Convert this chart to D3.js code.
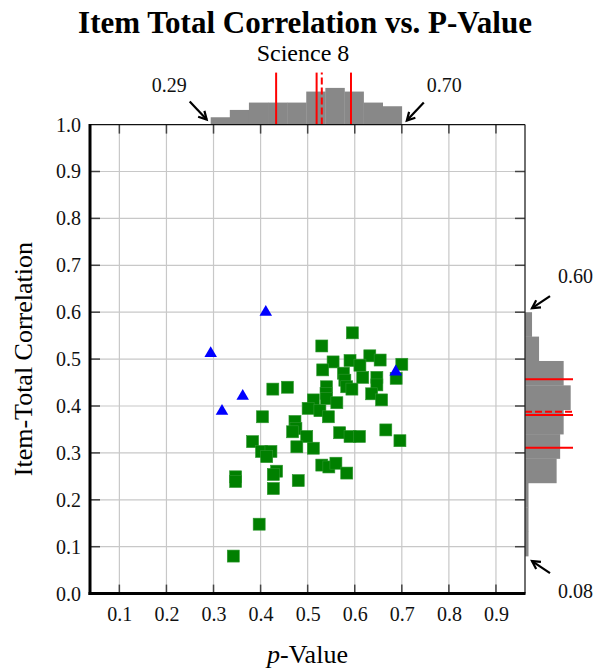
<!DOCTYPE html>
<html><head><meta charset="utf-8">
<script src="https://cdn.jsdelivr.net/npm/d3@7"></script>
<style>body{margin:0;background:#fff}svg{display:block}</style>
</head><body>
<script>
// ---------- data ----------
const squareP = [0.595,0.530,0.554,0.590,0.632,0.654,0.700,0.611,0.532,0.576,0.617,0.647,0.688,0.579,0.583,0.540,0.647,0.426,0.457,0.594,0.539,0.636,0.657,0.512,0.540,0.562,0.501,0.526,0.544,0.404,0.473,0.475,0.468,0.498,0.568,0.590,0.610,0.666,0.696,0.383,0.477,0.512,0.402,0.422,0.413,0.530,0.545,0.560,0.583,0.434,0.427,0.347,0.347,0.480,0.427,0.397,0.342];
const squareR = [0.556,0.528,0.494,0.497,0.507,0.498,0.489,0.487,0.477,0.470,0.461,0.461,0.459,0.455,0.441,0.441,0.445,0.436,0.440,0.436,0.427,0.426,0.413,0.413,0.416,0.407,0.395,0.390,0.377,0.377,0.367,0.352,0.345,0.335,0.343,0.335,0.335,0.349,0.326,0.324,0.313,0.310,0.303,0.303,0.292,0.274,0.270,0.278,0.257,0.261,0.254,0.249,0.239,0.241,0.224,0.148,0.080];
const triangleP = [0.294,0.318,0.362,0.411,0.687];
const triangleR = [0.512,0.389,0.421,0.600,0.473];
const xTicks = [0.1,0.2,0.3,0.4,0.5,0.6,0.7,0.8,0.9];
const yTicks = [0.0,0.1,0.2,0.3,0.4,0.5,0.6,0.7,0.8,0.9,1.0];
const topHistCounts = [2,4,6,6,6,9,10,9,6,5];           // p-value bins, low to high
const rightHistCounts = [1,1,1,9,10,11,13,11,4,2];       // correlation bins, low to high
const statNames = ["Q1","Mean","Median","Q3"];
const topStatValues = [0.433,0.519,0.530,0.592];
const rightStatValues = [0.311,0.381,0.388,0.457];
const titleText = "Item Total Correlation vs. P-Value";
const subtitleText = "Science 8";
const yLabel = "Item-Total Correlation";

// ---------- layout ----------
const W = 605, H = 671;
const svg = d3.select("body").append("svg").attr("width", W).attr("height", H)
  .style("font-family", "'Liberation Serif','Times New Roman',serif");

const x = d3.scaleLinear().domain([0.0376, 0.9617]).range([90, 525]);
const y = d3.scaleLinear().domain([0, 1]).range([593.6, 124.6]);
const [L, R] = x.range();
const [B, T] = y.range();

const allP = squareP.concat(triangleP);
const allR = squareR.concat(triangleR);
const pMin = d3.min(allP), pMax = d3.max(allP);
const rMin = d3.min(allR), rMax = d3.max(allR);
const fmt = d3.format(".2f");

// grid
const g = svg.append("g");
g.selectAll("line.gx").data(xTicks).join("line")
  .attr("x1", d => x(d)).attr("x2", d => x(d)).attr("y1", T).attr("y2", B)
  .attr("stroke", "#c8c8c8").attr("stroke-width", 1.2);
g.selectAll("line.gy").data(yTicks.filter(d => d > 0 && d < 1)).join("line")
  .attr("x1", L).attr("x2", R).attr("y1", d => y(d)).attr("y2", d => y(d))
  .attr("stroke", "#c8c8c8").attr("stroke-width", 1.2);

// scatter
const squares = squareP.map((p, i) => ({p, r: squareR[i]}));
const tris = triangleP.map((p, i) => ({p, r: triangleR[i]}));
svg.append("g").selectAll("rect").data(squares).join("rect")
  .attr("x", d => x(d.p) - 6).attr("y", d => y(d.r) - 6)
  .attr("width", 12).attr("height", 12)
  .attr("fill", "#008000").attr("stroke", "#2e962e").attr("stroke-width", 0.6);
svg.append("g").selectAll("path").data(tris).join("path")
  .attr("d", d3.symbol(d3.symbolTriangle, 68))
  .attr("transform", d => `translate(${x(d.p)},${y(d.r)})`)
  .attr("fill", "#0000ff");

// top histogram
const nTop = topHistCounts.length;
const topEdges = d3.range(nTop + 1).map(i => pMin + (pMax - pMin) * i / nTop);
const hTop = d3.scaleLinear().domain([0, 10]).range([0, 36.7]);
svg.append("g").selectAll("rect").data(topHistCounts).join("rect")
  .attr("x", (d, i) => x(topEdges[i]))
  .attr("width", (d, i) => x(topEdges[i + 1]) - x(topEdges[i]) + 0.3)
  .attr("y", d => T - hTop(d)).attr("height", d => hTop(d))
  .attr("fill", "#888888");

// right histogram
const nR = rightHistCounts.length;
const rEdges = d3.range(nR + 1).map(i => rMin + (rMax - rMin) * i / nR);
const wR = d3.scaleLinear().domain([0, 13]).range([0, 45.7]);
svg.append("g").selectAll("rect").data(rightHistCounts).join("rect")
  .attr("x", R)
  .attr("y", (d, i) => y(rEdges[i + 1]))
  .attr("height", (d, i) => y(rEdges[i]) - y(rEdges[i + 1]) + 0.3)
  .attr("width", d => wR(d))
  .attr("fill", "#888888");

// stat lines
svg.append("g").selectAll("line").data(topStatValues).join("line")
  .attr("x1", d => x(d)).attr("x2", d => x(d)).attr("y1", T).attr("y2", T - 52)
  .attr("stroke", "#ff0000").attr("stroke-width", 2)
  .attr("stroke-dasharray", (d, i) => statNames[i] === "Median" ? "7,3" : null);
svg.append("g").selectAll("line").data(rightStatValues).join("line")
  .attr("y1", d => y(d)).attr("y2", d => y(d)).attr("x1", R).attr("x2", R + 48)
  .attr("stroke", "#ff0000").attr("stroke-width", 2)
  .attr("stroke-dasharray", (d, i) => statNames[i] === "Median" ? "7,3" : null);

// ticks (inward) on all sides
const tk = svg.append("g").attr("stroke", "#444").attr("stroke-width", 1.5);
tk.selectAll("line.b").data(xTicks).join("line")
  .attr("x1", d => x(d)).attr("x2", d => x(d)).attr("y1", B).attr("y2", B - 9);
tk.selectAll("line.t").data(xTicks).join("line").attr("class", "t")
  .attr("x1", d => x(d)).attr("x2", d => x(d)).attr("y1", T).attr("y2", T + 9);
const innerY = yTicks.filter(d => d > 0 && d < 1);
tk.selectAll("line.l").data(innerY).join("line").attr("class", "l")
  .attr("y1", d => y(d)).attr("y2", d => y(d)).attr("x1", L).attr("x2", L + 10);
tk.selectAll("line.r").data(innerY).join("line").attr("class", "r")
  .attr("y1", d => y(d)).attr("y2", d => y(d)).attr("x1", R).attr("x2", R - 10);

// frame
svg.append("line").attr("x1", L).attr("x2", R).attr("y1", T).attr("y2", T).attr("stroke", "#111").attr("stroke-width", 1.2);
svg.append("line").attr("x1", R).attr("x2", R).attr("y1", T).attr("y2", B).attr("stroke", "#222").attr("stroke-width", 1.3);
svg.append("line").attr("x1", L).attr("x2", L).attr("y1", T - 0.5).attr("y2", B + 1.5).attr("stroke", "#000").attr("stroke-width", 3);
svg.append("line").attr("x1", L - 1.5).attr("x2", R + 0.5).attr("y1", B).attr("y2", B).attr("stroke", "#000").attr("stroke-width", 3);

// axes labels via d3 axes (lines hidden)
const xAxis = svg.append("g").attr("transform", `translate(0,${B})`)
  .call(d3.axisBottom(x).tickValues(xTicks).tickSize(0).tickPadding(13).tickFormat(d3.format(".1f")));
const yAxis = svg.append("g").attr("transform", `translate(${L},0)`)
  .call(d3.axisLeft(y).tickValues(yTicks).tickSize(0).tickPadding(9).tickFormat(d3.format(".1f")));
[xAxis, yAxis].forEach(a => {
  a.select(".domain").remove();
  a.selectAll("text").attr("font-family", "'Liberation Serif','Times New Roman',serif")
    .attr("font-size", 20).attr("fill", "#111");
});

// titles
svg.append("text").attr("x", 305).attr("y", 33).attr("text-anchor", "middle")
  .attr("font-size", 31).attr("font-weight", "bold").attr("fill", "#000").text(titleText);
svg.append("text").attr("x", 303).attr("y", 61).attr("text-anchor", "middle")
  .attr("font-size", 24).attr("fill", "#000").text(subtitleText);
const xl = svg.append("text").attr("x", (L + R) / 2).attr("y", 663).attr("text-anchor", "middle")
  .attr("font-size", 26).attr("fill", "#000");
xl.append("tspan").attr("font-style", "italic").text("p");
xl.append("tspan").text("-Value");
svg.append("text").attr("transform", `translate(32,${(T + B) / 2}) rotate(-90)`)
  .attr("text-anchor", "middle").attr("font-size", 26).attr("fill", "#000").text(yLabel);

// annotation arrows
function arrow(tx, ty, fx, fy) {
  const a = Math.atan2(ty - fy, tx - fx), len = 9, sp = 0.5;
  const gA = svg.append("g").attr("stroke", "#000").attr("stroke-width", 2.2).attr("fill", "none");
  gA.append("line").attr("x1", fx).attr("y1", fy).attr("x2", tx).attr("y2", ty);
  gA.append("polyline").attr("points", [
    [tx - len * Math.cos(a - sp), ty - len * Math.sin(a - sp)],
    [tx, ty],
    [tx - len * Math.cos(a + sp), ty - len * Math.sin(a + sp)]
  ].map(p => p.join(",")).join(" "));
}
const lab = (tx, ty, anchor, s) => svg.append("text").attr("x", tx).attr("y", ty)
  .attr("text-anchor", anchor).attr("font-size", 20).attr("fill", "#111").text(s);

// p min
let tx = x(pMin) - 4, ty = T - 5;
arrow(tx, ty, tx - 17, ty - 18); lab(tx - 20, ty - 28, "end", fmt(pMin));
// p max
tx = x(pMax) + 5; ty = T - 4;
arrow(tx, ty, tx + 17, ty - 18); lab(tx + 20, ty - 29, "start", fmt(pMax));
// r max
tx = R + 7; ty = y(rMax) - 4;
arrow(tx, ty, tx + 18, ty - 12); lab(tx + 26, ty - 25, "start", fmt(rMax));
// r min
tx = R + 7; ty = y(rMin) + 5;
arrow(tx, ty, tx + 18, ty + 12); lab(tx + 26, ty + 37, "start", fmt(rMin));
</script>
</body></html>
